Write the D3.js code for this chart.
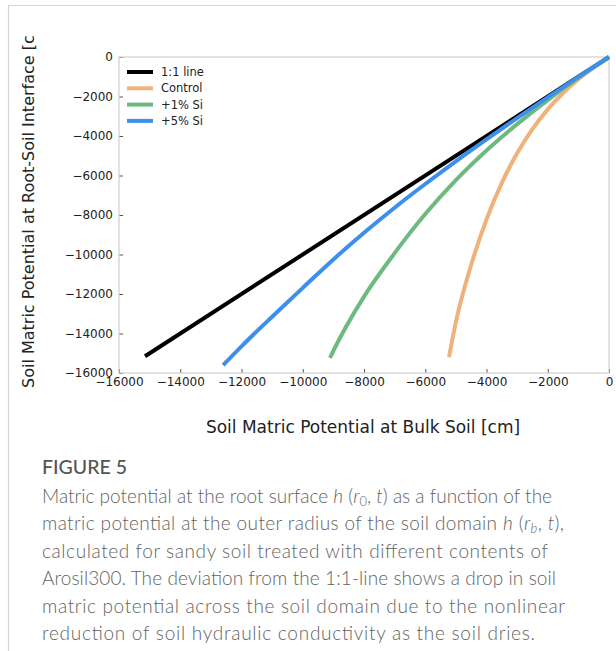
<!DOCTYPE html>
<html>
<head>
<meta charset="utf-8">
<script src="https://cdn.jsdelivr.net/npm/d3@7"></script>
<style>
  html, body { margin: 0; padding: 0; background: #fff; }
  svg { display: block; }
</style>
</head>
<body>
<svg id="fig" width="616" height="651"></svg>
<script>
// Bulk-soil matric potential h(r_b,t) [cm] and root-surface potential h(r_0,t) [cm]
const oneToOneX = [-15150, 0];
const oneToOneY = [-15150, 0];

const controlX = [-5224, -5000, -4500, -4000, -3500, -3000, -2500, -2000, -1500, -1000, -500, 0];
const controlY = [-15195, -13425, -10525, -8225, -6375, -4875, -3650, -2650, -1825, -1125, -525, 0];

const si1X = [-9110, -9000, -8000, -7000, -6000, -5000, -4000, -3000, -2000, -1000, 0];
const si1Y = [-15240, -14880, -12130, -9930, -7950, -6230, -4730, -3400, -2180, -1050, 0];

const si5X = [-12600, -12000, -11000, -10000, -9000, -8000, -7000, -6000, -5000, -4000, -3000, -2000, -1000, 0];
const si5Y = [-15600, -14650, -13150, -11690, -10250, -8900, -7630, -6430, -5280, -4170, -3090, -2040, -1010, 0];

const seriesNames = ["1:1 line", "Control", "+1% Si", "+5% Si"];
const seriesColors = ["#000000", "#EFB27C", "#6DB97F", "#3D8FEE"];

const xTicks = [-16000, -14000, -12000, -10000, -8000, -6000, -4000, -2000, 0];
const yTicks = [0, -2000, -4000, -6000, -8000, -10000, -12000, -14000, -16000];

const captionTitle = "FIGURE 5";

const svg = d3.select("#fig");

// page frame
svg.append("line").attr("x1", 8).attr("y1", 5.5).attr("x2", 616).attr("y2", 5.5)
  .attr("stroke", "#d4d4d4").attr("stroke-width", 1.2);
svg.append("line").attr("x1", 8.5).attr("y1", 5).attr("x2", 8.5).attr("y2", 651)
  .attr("stroke", "#d4d4d4").attr("stroke-width", 1.2);

const plot = { left: 119, right: 609, top: 57, bottom: 373 };

const x = d3.scaleLinear().domain([-16000, 0]).range([plot.left, plot.right]);
const y = d3.scaleLinear().domain([-16000, 0]).range([plot.bottom, plot.top]);

const fmt = d => d === 0 ? "0" : "\u2212" + Math.abs(d);

const xAxis = svg.append("g")
  .attr("transform", `translate(0,${plot.bottom})`)
  .call(d3.axisBottom(x).tickValues(xTicks).tickFormat(fmt).tickSizeInner(-4).tickSizeOuter(0).tickPadding(4));
const yAxis = svg.append("g")
  .attr("transform", `translate(${plot.left},0)`)
  .call(d3.axisLeft(y).tickValues(yTicks).tickFormat(fmt).tickSizeInner(-4).tickSizeOuter(0).tickPadding(6));

[xAxis, yAxis].forEach(g => {
  g.select(".domain").remove();
  g.selectAll(".tick line").attr("stroke", "#555").attr("stroke-width", 1);
  g.selectAll(".tick text")
    .attr("font-family", "DejaVu Sans")
    .attr("font-size", 12)
    .attr("fill", "#222");
});

// spines
svg.append("rect")
  .attr("x", plot.left).attr("y", plot.top)
  .attr("width", plot.right - plot.left).attr("height", plot.bottom - plot.top)
  .attr("fill", "none").attr("stroke", "#cfcfcf").attr("stroke-width", 1.2);

const line = d3.line()
  .x(d => x(d[0])).y(d => y(d[1]))
  .curve(d3.curveMonotoneX);

const series = [
  d3.zip(oneToOneX, oneToOneY),
  d3.zip(controlX, controlY),
  d3.zip(si1X, si1Y),
  d3.zip(si5X, si5Y)
];

// 1:1 reference first, the treated soils on top
series.forEach((pts, i) => {
  svg.append("path")
    .datum(pts)
    .attr("d", line)
    .attr("fill", "none")
    .attr("stroke", seriesColors[i])
    .attr("stroke-width", 4)
    .attr("stroke-linecap", "butt");
});

// legend
const legend = svg.append("g").attr("transform", "translate(127,72)");
seriesNames.forEach((name, i) => {
  const row = legend.append("g").attr("transform", `translate(0,${i * 16.3})`);
  row.append("line").attr("x1", 0).attr("x2", 26).attr("y1", 0).attr("y2", 0)
    .attr("stroke", seriesColors[i]).attr("stroke-width", 4);
  row.append("text").attr("x", 34).attr("y", 0).attr("dy", "0.35em")
    .attr("font-family", "DejaVu Sans").attr("font-size", 11.5).attr("fill", "#222")
    .text(name);
});

// axis titles
svg.append("text")
  .attr("x", 363).attr("y", 433)
  .attr("text-anchor", "middle")
  .attr("font-family", "DejaVu Sans").attr("font-size", 17).attr("fill", "#222")
  .text("Soil Matric Potential at Bulk Soil [cm]");

svg.append("clipPath").attr("id", "ylab-clip")
  .append("rect").attr("x", 0).attr("y", 34).attr("width", 80).attr("height", 400);
svg.append("g").attr("clip-path", "url(#ylab-clip)")
  .append("text")
  .attr("transform", "translate(34,388) rotate(-90)")
  .attr("text-anchor", "start")
  .attr("font-family", "DejaVu Sans").attr("font-size", 16).attr("fill", "#222")
  .text("Soil Matric Potential at Root-Soil Interface [cm]");

// caption
svg.append("text")
  .attr("x", 42).attr("y", 474)
  .attr("font-family", "Lato").attr("font-size", 19.5).attr("font-weight", 500)
  .attr("fill", "#555")
  .text(captionTitle);

// each caption line is set to its column width, like the justified source layout
const capLines = [
  [["Matric potential at the root surface ", 0], ["h", 1], [" (", 0], ["r", 1], ["0", 2], [", ", 0], ["t", 1], [") as a function of the", 0]],
  [["matric potential at the outer radius of the soil domain ", 0], ["h", 1], [" (", 0], ["r", 1], ["b", 3], [", ", 0], ["t", 1], ["),", 0]],
  [["calculated for sandy soil treated with different contents of", 0]],
  [["Arosil300. The deviation from the 1:1-line shows a drop in soil", 0]],
  [["matric potential across the soil domain due to the nonlinear", 0]],
  [["reduction of soil hydraulic conductivity as the soil dries.", 0]]
];
const capWidths = [510, 522, 506, 514, 523, 493];
capLines.forEach((parts, i) => {
  const t = svg.append("text")
    .attr("x", 42).attr("y", 503 + i * 27.4)
    .attr("font-family", "Lato").attr("font-size", 19).attr("font-weight", 300)
    .attr("fill", "#636363");
  parts.forEach(([s, kind]) => {
    const ts = t.append("tspan").text(s);
    if (kind === 1) ts.attr("font-style", "italic");
    if (kind === 2) ts.attr("font-size", 13).attr("baseline-shift", "-20%");
    if (kind === 3) ts.attr("font-size", 13).attr("font-style", "italic").attr("baseline-shift", "-20%");
  });
  t.attr("textLength", capWidths[i]).attr("lengthAdjust", "spacing");
});
</script>
</body>
</html>
